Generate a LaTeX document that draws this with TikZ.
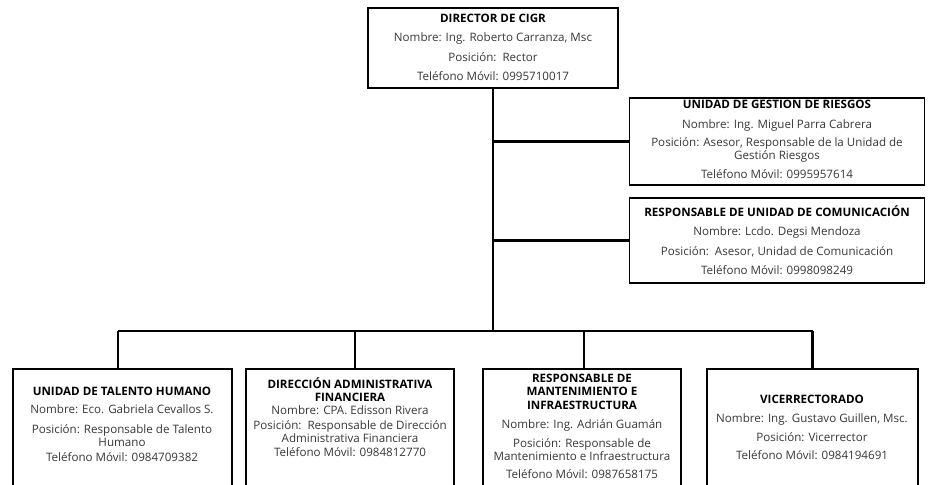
\documentclass[tikz,border=0pt]{standalone}
\usepackage{fontspec}
\setmainfont{Open Sans}
\begin{document}
\begin{tikzpicture}[x=1pt,y=-1pt,
  box/.style={draw, line width=1.7pt, inner sep=0pt},
  conn/.style={line width=2.8pt},
  txt/.style={align=center, anchor=north, inner sep=0pt, text=black!78,
    font=\fontsize{11.6}{12.8}\selectfont}]
\clip (0,0) rectangle (930,485);
\fill[white] (0,0) rectangle (930,485);
% boxes
\node[box, minimum width=250pt, minimum height=80pt] (dir) at (493,48) {};
\node[box, minimum width=295pt, minimum height=87pt] (rie) at (777,141.5) {};
\node[box, minimum width=295pt, minimum height=85pt] (com) at (777,240.5) {};
\node[box, minimum width=219pt, minimum height=140pt] (b1) at (122.5,439) {};
\node[box, minimum width=208pt, minimum height=140pt] (b2) at (350,439) {};
\node[box, minimum width=198pt, minimum height=140pt] (b3) at (582,439) {};
\node[box, minimum width=211pt, minimum height=140pt] (b4) at (812.5,439) {};
% texts
\node[txt] (t0) at (493,13.7) {{\color{black}\bfseries DIRECTOR DE CIGR}\\[6.7pt]
  Nombre: Ing. Roberto Carranza, Msc\\[6.7pt]
  Posición:\ \ Rector\\[6.7pt]
  Teléfono Móvil: 0995710017};
\node[txt] (t1) at (777,99.7) {{\color{black}\bfseries UNIDAD DE GESTION DE RIESGOS}\\[7pt]
  Nombre: Ing. Miguel Parra Cabrera\\[6pt]
  Posición: Asesor, Responsable de la Unidad de\\
  Gestión Riesgos\\[5.5pt]
  Teléfono Móvil: 0995957614};
\node[txt] (t2) at (777,205) {{\color{black}\bfseries RESPONSABLE DE UNIDAD DE COMUNICACIÓN}\\[6.8pt]
  Nombre: Lcdo. Degsi Mendoza\\[6.8pt]
  Posición:\ \ Asesor, Unidad de Comunicación\\[6.5pt]
  Teléfono Móvil: 0998098249};
\node[txt] (t3) at (122,386.7) {{\color{black}\bfseries UNIDAD DE TALENTO HUMANO}\\[5.5pt]
  Nombre: Eco. Gabriela Cevallos S.\\[7pt]
  Posición: Responsable de Talento\\
  Humano\\[2.5pt]
  Teléfono Móvil: 0984709382};
\node[txt] (t4) at (350,377.2) {{\color{black}\bfseries DIRECCIÓN ADMINISTRATIVA}\\
  {\color{black}\bfseries FINANCIERA}\\[0.5pt]
  Nombre: CPA. Edisson Rivera\\[2.5pt]
  Posición:\ \ Responsable de Dirección\\
  Administrativa Financiera\\[1.5pt]
  Teléfono Móvil: 0984812770};
\node[txt] (t5) at (582,373.7) {{\color{black}\bfseries RESPONSABLE DE}\\
  {\color{black}\bfseries MANTENIMIENTO E}\\[2pt]
  {\color{black}\bfseries INFRAESTRUCTURA}\\[6pt]
  Nombre: Ing. Adrián Guamán\\[6pt]
  Posición: Responsable de\\
  Mantenimiento e Infraestructura\\[5pt]
  Teléfono Móvil: 0987658175};
\node[txt] (t6) at (812,394.7) {{\color{black}\bfseries VICERRECTORADO}\\[6.2pt]
  Nombre: Ing. Gustavo Guillen, Msc.\\[6.2pt]
  Posición: Vicerrector\\[5.7pt]
  Teléfono Móvil: 0984194691};
% connectors
\coordinate (bus) at (493,331);
\coordinate (p1) at ([xshift=-4.5pt]b1.north);
\coordinate (p2) at ([xshift=5pt]b2.north);
\coordinate (p3) at ([xshift=2pt]b3.north);
\coordinate (p4) at (b4.north);
\draw[conn] (dir.south) -- (bus);
\draw[conn] (dir.south |- rie.west) -- (rie.west);
\draw[conn] (dir.south |- com.west) -- (com.west);
\draw[conn] (p1 |- bus) -- (p4 |- bus);
\draw[conn] (p1 |- bus) -- (p1);
\draw[conn] (p2 |- bus) -- (p2);
\draw[conn] (p3 |- bus) -- (p3);
\draw[conn] (p4 |- bus) -- (p4);
\end{tikzpicture}
\end{document}
